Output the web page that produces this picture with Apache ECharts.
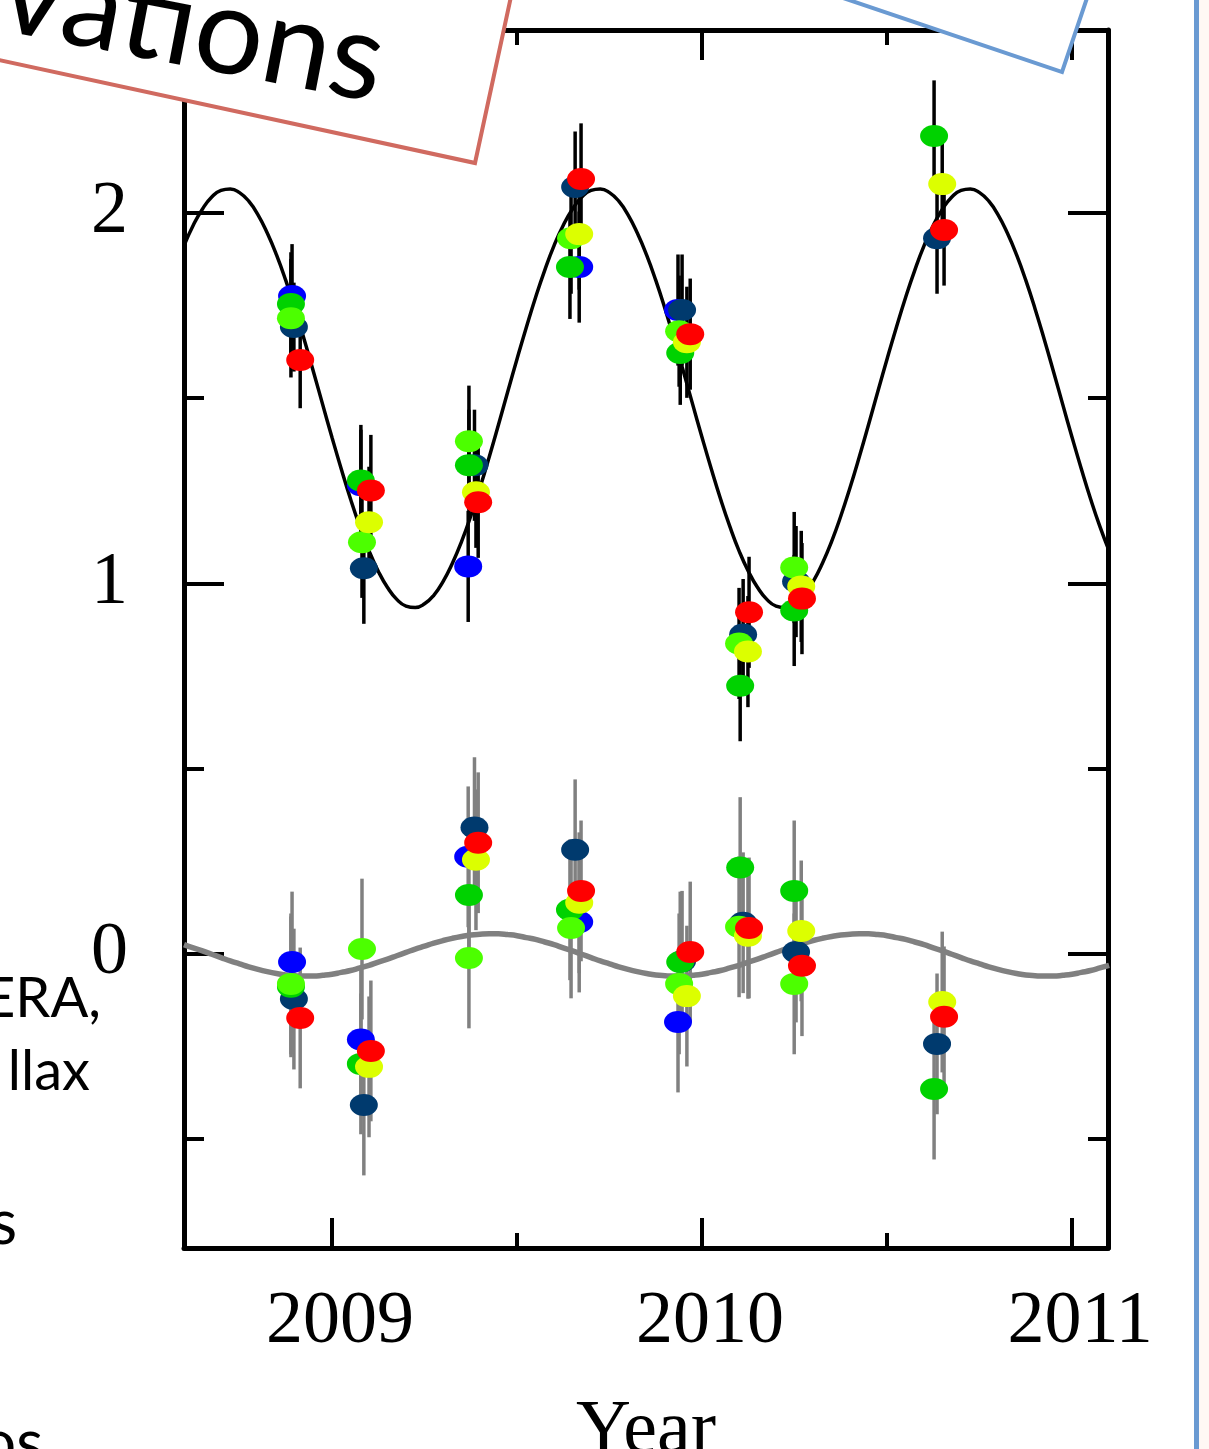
<!DOCTYPE html>
<html>
<head>
<meta charset="utf-8">
<script src="https://cdn.jsdelivr.net/npm/echarts@6/dist/echarts.min.js"></script>
<style>
  html, body { margin: 0; padding: 0; background: #ffffff; }
  #chart { width: 1209px; height: 1449px; }
</style>
</head>
<body>
<div id="chart"></div>
<script>
// ---------- tick labels ----------
const xMajorTicks = [2009, 2010, 2011];
const xMinorTicks = [2009.5, 2010.5];
const yMajorTicks = [0, 1, 2];
const yMinorTicks = [-0.5, 0.5, 1.5];

// ---------- model curves ----------
const modelYears = [
  2008.600, 2008.625, 2008.650, 2008.675, 2008.700, 2008.725, 2008.750, 2008.775, 2008.800, 2008.825,
  2008.850, 2008.875, 2008.900, 2008.925, 2008.950, 2008.975, 2009.000, 2009.025, 2009.050, 2009.075,
  2009.100, 2009.125, 2009.150, 2009.175, 2009.200, 2009.225, 2009.250, 2009.275, 2009.300, 2009.325,
  2009.350, 2009.375, 2009.400, 2009.425, 2009.450, 2009.475, 2009.500, 2009.525, 2009.550, 2009.575,
  2009.600, 2009.625, 2009.650, 2009.675, 2009.700, 2009.725, 2009.750, 2009.775, 2009.800, 2009.825,
  2009.850, 2009.875, 2009.900, 2009.925, 2009.950, 2009.975, 2010.000, 2010.025, 2010.050, 2010.075,
  2010.100, 2010.125, 2010.150, 2010.175, 2010.200, 2010.225, 2010.250, 2010.275, 2010.300, 2010.325,
  2010.350, 2010.375, 2010.400, 2010.425, 2010.450, 2010.475, 2010.500, 2010.525, 2010.550, 2010.575,
  2010.600, 2010.625, 2010.650, 2010.675, 2010.700, 2010.725, 2010.750, 2010.775, 2010.800, 2010.825,
  2010.850, 2010.875, 2010.900, 2010.925, 2010.950, 2010.975, 2011.000, 2011.025, 2011.050, 2011.075,
  2011.100
];
const modelUpper = [
  1.912, 1.967, 2.011, 2.043, 2.061, 2.065, 2.055, 2.032, 1.995, 1.946,
  1.887, 1.818, 1.741, 1.658, 1.571, 1.482, 1.394, 1.309, 1.228, 1.154,
  1.088, 1.033, 0.989, 0.957, 0.939, 0.935, 0.945, 0.968, 1.005, 1.054,
  1.113, 1.182, 1.259, 1.342, 1.429, 1.518, 1.606, 1.691, 1.772, 1.846,
  1.912, 1.967, 2.011, 2.043, 2.061, 2.065, 2.055, 2.032, 1.995, 1.946,
  1.887, 1.818, 1.741, 1.658, 1.571, 1.482, 1.394, 1.309, 1.228, 1.154,
  1.088, 1.033, 0.989, 0.957, 0.939, 0.935, 0.945, 0.968, 1.005, 1.054,
  1.113, 1.182, 1.259, 1.342, 1.429, 1.518, 1.606, 1.691, 1.772, 1.846,
  1.912, 1.967, 2.011, 2.043, 2.061, 2.065, 2.055, 2.032, 1.995, 1.946,
  1.887, 1.818, 1.741, 1.658, 1.571, 1.482, 1.394, 1.309, 1.228, 1.154,
  1.088
];
const modelLower = [
  0.025, 0.016, 0.008, -0.001, -0.010, -0.019, -0.027, -0.035, -0.042, -0.048,
  -0.053, -0.057, -0.059, -0.060, -0.060, -0.058, -0.055, -0.050, -0.045, -0.038,
  -0.031, -0.022, -0.014, -0.005, 0.004, 0.013, 0.021, 0.029, 0.036, 0.042,
  0.047, 0.051, 0.053, 0.054, 0.054, 0.052, 0.049, 0.044, 0.039, 0.032,
  0.025, 0.016, 0.008, -0.001, -0.010, -0.019, -0.027, -0.035, -0.042, -0.048,
  -0.053, -0.057, -0.059, -0.060, -0.060, -0.058, -0.055, -0.050, -0.045, -0.038,
  -0.031, -0.022, -0.014, -0.005, 0.004, 0.013, 0.021, 0.029, 0.036, 0.042,
  0.047, 0.051, 0.053, 0.054, 0.054, 0.052, 0.049, 0.044, 0.039, 0.032,
  0.025, 0.016, 0.008, -0.001, -0.010, -0.019, -0.027, -0.035, -0.042, -0.048,
  -0.053, -0.057, -0.059, -0.060, -0.060, -0.058, -0.055, -0.050, -0.045, -0.038,
  -0.031
];

// ---------- observations ----------
const blueDates  = [2008.892, 2009.078, 2009.368, 2009.668, 2009.935];
const blueUpper  = [1.776, 1.265, 1.046, 1.854, 1.738];
const blueLower  = [-0.022, -0.231, 0.262, 0.086, -0.184];
const blueUpperErr = [0.14, 0.15, 0.15, 0.15, 0.15];
const blueLowerErr = [0.19, 0.19, 0.19, 0.19, 0.19];

const navyDates  = [2008.897, 2009.086, 2009.385, 2009.657, 2009.946, 2010.111, 2010.254, 2010.635];
const navyUpper  = [1.692, 1.041, 1.319, 2.070, 1.738, 0.862, 1.005, 1.932];
const navyLower  = [-0.122, -0.408, 0.341, 0.281, -0.020, 0.084, 0.005, -0.243];
const navyUpperErr = [0.12, 0.15, 0.15, 0.15, 0.15, 0.15, 0.15, 0.15];
const navyLowerErr = [0.19, 0.19, 0.19, 0.19, 0.19, 0.19, 0.19, 0.19];

const greenDates = [2008.889, 2009.078, 2009.370, 2009.643, 2009.941, 2010.103, 2010.249, 2010.627];
const greenUpper = [1.754, 1.278, 1.319, 1.854, 1.622, 0.724, 0.927, 2.208];
const greenLower = [-0.089, -0.297, 0.159, 0.119, -0.022, 0.233, 0.170, -0.365];
const greenUpperErr = [0.14, 0.15, 0.15, 0.14, 0.14, 0.15, 0.15, 0.15];
const greenLowerErr = [0.19, 0.19, 0.19, 0.19, 0.19, 0.19, 0.19, 0.19];

const limeDates  = [2008.889, 2009.081, 2009.370, 2009.646, 2009.938, 2010.100, 2010.249];
const limeUpper  = [1.716, 1.111, 1.384, 1.932, 1.681, 0.838, 1.043];
const limeLower  = [-0.081, 0.013, -0.011, 0.070, -0.081, 0.073, -0.081];
const limeUpperErr = [0.16, 0.15, 0.15, 0.15, 0.15, 0.15, 0.15];
const limeLowerErr = [0.19, 0.19, 0.19, 0.19, 0.19, 0.19, 0.19];

const yellowDates = [2009.100, 2009.389, 2009.668, 2009.959, 2010.124, 2010.268, 2010.649];
const yellowUpper = [1.165, 1.246, 1.943, 1.651, 0.816, 0.992, 2.078];
const yellowLower = [-0.305, 0.254, 0.138, -0.114, 0.049, 0.062, -0.130];
const yellowUpperErr = [0.15, 0.15, 0.15, 0.15, 0.15, 0.15, 0.15];
const yellowLowerErr = [0.19, 0.19, 0.19, 0.19, 0.17, 0.19, 0.19];

const redDates  = [2008.914, 2009.105, 2009.395, 2009.673, 2009.968, 2010.127, 2010.270, 2010.654];
const redUpper  = [1.603, 1.251, 1.219, 2.092, 1.673, 0.922, 0.959, 1.954];
const redLower  = [-0.173, -0.262, 0.300, 0.170, 0.005, 0.070, -0.032, -0.170];
const redUpperErr = [0.13, 0.15, 0.15, 0.15, 0.15, 0.15, 0.15, 0.15];
const redLowerErr = [0.19, 0.19, 0.19, 0.19, 0.19, 0.19, 0.19, 0.19];

// ---------- styling ----------
const groups = [
  { color: '#0000FF', dates: blueDates,   up: blueUpper,   lo: blueLower,   upErr: blueUpperErr,   loErr: blueLowerErr },
  { color: '#003A6E', dates: navyDates,   up: navyUpper,   lo: navyLower,   upErr: navyUpperErr,   loErr: navyLowerErr },
  { color: '#00D200', dates: greenDates,  up: greenUpper,  lo: greenLower,  upErr: greenUpperErr,  loErr: greenLowerErr },
  { color: '#4CFF00', dates: limeDates,   up: limeUpper,   lo: limeLower,   upErr: limeUpperErr,   loErr: limeLowerErr },
  { color: '#DCFF00', dates: yellowDates, up: yellowUpper, lo: yellowLower, upErr: yellowUpperErr, loErr: yellowLowerErr },
  { color: '#FF0000', dates: redDates,    up: redUpper,    lo: redLower,    upErr: redUpperErr,    loErr: redLowerErr }
];

const X_MIN = 2008.6, X_MAX = 2011.097;
const Y_MIN = -0.794, Y_MAX = 2.494;
const ellipse = 'path://M0,11A14,11,0,1,0,28,11A14,11,0,1,0,0,11Z';
const serif = 'Liberation Serif';

function errorSeries(dates, vals, errs, color) {
  return {
    type: 'custom',
    silent: true,
    z: 2,
    encode: { x: 0, y: [1, 2] },
    data: dates.map((d, i) => [d, vals[i] - errs[i], vals[i] + errs[i]]),
    renderItem: function (params, api) {
      const p1 = api.coord([api.value(0), api.value(1)]);
      const p2 = api.coord([api.value(0), api.value(2)]);
      return {
        type: 'line',
        shape: { x1: p1[0], y1: p1[1], x2: p2[0], y2: p2[1] },
        style: { stroke: color, lineWidth: 3.5 }
      };
    }
  };
}
function pointSeries(dates, vals, color) {
  return {
    type: 'scatter',
    silent: true,
    z: 3,
    symbol: ellipse,
    symbolSize: [28, 22],
    itemStyle: { color: color, opacity: 1 },
    data: dates.map((d, i) => [d, vals[i]])
  };
}

const series = [];
series.push({
  type: 'line', silent: true, z: 1, smooth: true, showSymbol: false, symbol: 'none',
  lineStyle: { color: '#000000', width: 3.5 },
  data: modelYears.map((t, i) => [t, modelUpper[i]])
});
series.push({
  type: 'line', silent: true, z: 1, smooth: true, showSymbol: false, symbol: 'none',
  lineStyle: { color: '#808080', width: 5.5 },
  data: modelYears.map((t, i) => [t, modelLower[i]])
});
groups.forEach(g => {
  series.push(errorSeries(g.dates, g.up, g.upErr, '#000000'));
  series.push(errorSeries(g.dates, g.lo, g.loErr, '#808080'));
});
groups.forEach(g => {
  series.push(pointSeries(g.dates, g.up, g.color));
  series.push(pointSeries(g.dates, g.lo, g.color));
});

const tickStyle = { color: '#000000', width: 4 };
const lineStyle = { color: '#000000', width: 5 };

function xAxisDef(position, major, showLine) {
  const a = {
    type: 'value', gridIndex: 0, position: position, min: X_MIN, max: X_MAX,
    axisLine: { show: showLine, onZero: false, lineStyle: lineStyle },
    axisTick: { show: true, inside: true, length: major ? 30 : 15, lineStyle: tickStyle,
                customValues: major ? xMajorTicks : xMinorTicks },
    axisLabel: { show: false },
    splitLine: { show: false }
  };
  if (position === 'bottom' && major) {
    a.axisLabel = { show: true, customValues: xMajorTicks, margin: 38, color: '#000000',
                    fontFamily: serif, fontSize: 74, padding: [0, 0, 0, 16],
                    formatter: v => String(Math.round(v)) };
    a.name = 'Year';
    a.nameLocation = 'middle';
    a.nameGap = 146;
    a.nameTextStyle = { fontFamily: serif, fontSize: 76, color: '#000000' };
  }
  return a;
}
function yAxisDef(position, major, showLine) {
  const a = {
    type: 'value', gridIndex: 0, position: position, min: Y_MIN, max: Y_MAX,
    axisLine: { show: showLine, onZero: false, lineStyle: lineStyle },
    axisTick: { show: true, inside: true, length: major ? 40 : 20, lineStyle: tickStyle,
                customValues: major ? yMajorTicks : yMinorTicks },
    axisLabel: { show: false },
    splitLine: { show: false }
  };
  if (position === 'left' && major) {
    a.axisLabel = { show: true, customValues: yMajorTicks, margin: 56, color: '#000000',
                    fontFamily: serif, fontSize: 74,
                    formatter: v => String(Math.round(v)) };
  }
  return a;
}

const option = {
  animation: false,
  backgroundColor: '#ffffff',
  grid: { left: 184, right: 101, top: 30, bottom: 201, containLabel: false, outerBoundsMode: 'none' },
  xAxis: [
    xAxisDef('bottom', true, true),
    xAxisDef('bottom', false, false),
    xAxisDef('top', true, true),
    xAxisDef('top', false, false)
  ],
  yAxis: [
    yAxisDef('left', true, true),
    yAxisDef('left', false, false),
    yAxisDef('right', true, true),
    yAxisDef('right', false, false)
  ],
  series: series,
  graphic: [
    // red annotation box (cropped)
    {
      type: 'group', x: 475, y: 163, rotation: -0.213, z: 100,
      children: [
        { type: 'rect', z: 100, shape: { x: -900, y: -400, width: 900, height: 400 },
          style: { fill: '#ffffff', stroke: '#D06A60', lineWidth: 4 } }
      ]
    },
    {
      type: 'text', x: 374, y: 110, rotation: -0.19, z: 101,
      style: { text: 'vations', x: 0, y: -0.387 * 122, align: 'right', verticalAlign: 'middle',
               fontFamily: 'Lato', fontSize: 122, fill: '#000000' }
    },
    // blue annotation box (cropped)
    {
      type: 'group', x: 1062, y: 72, rotation: -0.326, z: 100,
      children: [
        { type: 'rect', z: 100, shape: { x: -900, y: -400, width: 900, height: 400 },
          style: { fill: '#ffffff', stroke: '#6A9AD2', lineWidth: 4 } }
      ]
    },
    // right slide divider
    { type: 'rect', z: 100, shape: { x: 1199, y: 0, width: 10, height: 1449 }, style: { fill: '#FFF8F4' } },
    { type: 'rect', z: 101, shape: { x: 1194, y: 0, width: 5, height: 1449 }, style: { fill: '#6A9AD2' } },
    // cropped side text
    { type: 'text', z: 100, style: { text: 'ERA,', x: 101, y: 1021 - 0.387 * 56, align: 'right', verticalAlign: 'middle', fontFamily: 'Lato', fontSize: 56, fill: '#000000' } },
    { type: 'text', z: 100, style: { text: 'llax', x: 90, y: 1094 - 0.387 * 56, align: 'right', verticalAlign: 'middle', fontFamily: 'Lato', fontSize: 56, fill: '#000000' } },
    { type: 'text', z: 100, style: { text: 's', x: 17, y: 1248 - 0.387 * 62, align: 'right', verticalAlign: 'middle', fontFamily: 'Lato', fontSize: 62, fill: '#000000' } },
    { type: 'text', z: 100, style: { text: 'os', x: 43, y: 1468 - 0.387 * 62, align: 'right', verticalAlign: 'middle', fontFamily: 'Lato', fontSize: 62, fill: '#000000' } }
  ]
};

const chart = echarts.init(document.getElementById('chart'), null, { renderer: 'canvas', width: 1209, height: 1449 });
chart.setOption(option);
</script>
</body>
</html>
